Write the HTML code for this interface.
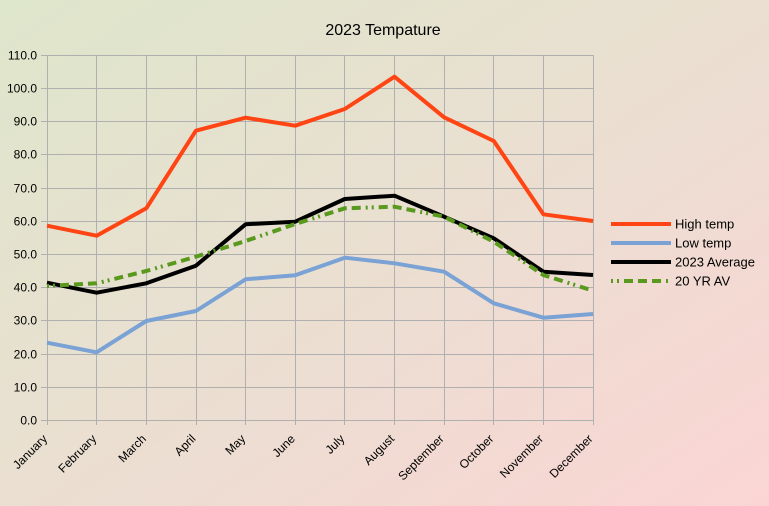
<!DOCTYPE html>
<html><head><meta charset="utf-8"><style>
html,body{margin:0;padding:0;}
body{width:769px;height:506px;overflow:hidden;background:linear-gradient(to bottom right,#DEE6CB 0%,#EADFD1 50%,#FBD5D4 100%);font-family:"Liberation Sans",Arial,sans-serif;}
svg{display:block;}
</style></head><body>
<svg width="769" height="506" viewBox="0 0 769 506" xmlns="http://www.w3.org/2000/svg" font-family="Liberation Sans, Arial, sans-serif">
<text x="383" y="35" font-size="16" text-anchor="middle" fill="#000">2023 Tempature</text>
<g stroke="#B0B0B0" stroke-width="1" fill="none">
<path d="M41 420.5H593.5M41 387.5H593.5M41 354.5H593.5M41 320.5H593.5M41 287.5H593.5M41 254.5H593.5M41 221.5H593.5M41 188.5H593.5M41 154.5H593.5M41 121.5H593.5M41 88.5H593.5M41 55.5H593.5"/>
<path d="M47.5 55V425M96.5 55V425M146.5 55V425M196.5 55V425M245.5 55V425M295.5 55V425M344.5 55V425M394.5 55V425M444.5 55V425M493.5 55V425M543.5 55V425M593.5 55V425"/>
</g>
<g font-size="12" text-anchor="end" fill="#000">
<text x="37" y="424.5">0.0</text>
<text x="37" y="391.5">10.0</text>
<text x="37" y="358.5">20.0</text>
<text x="37" y="324.5">30.0</text>
<text x="37" y="291.5">40.0</text>
<text x="37" y="258.5">50.0</text>
<text x="37" y="225.5">60.0</text>
<text x="37" y="192.5">70.0</text>
<text x="37" y="158.5">80.0</text>
<text x="37" y="125.5">90.0</text>
<text x="37" y="92.5">100.0</text>
<text x="37" y="59.5">110.0</text>
</g>
<g font-size="12" text-anchor="end" fill="#000">
<text transform="translate(48,439.5) rotate(-45)">January</text>
<text transform="translate(97.1,439.5) rotate(-45)">February</text>
<text transform="translate(146.8,439.5) rotate(-45)">March</text>
<text transform="translate(196.4,439.5) rotate(-45)">April</text>
<text transform="translate(246.1,439.5) rotate(-45)">May</text>
<text transform="translate(295.7,439.5) rotate(-45)">June</text>
<text transform="translate(345.3,439.5) rotate(-45)">July</text>
<text transform="translate(395,439.5) rotate(-45)">August</text>
<text transform="translate(444.6,439.5) rotate(-45)">September</text>
<text transform="translate(494.3,439.5) rotate(-45)">October</text>
<text transform="translate(543.9,439.5) rotate(-45)">November</text>
<text transform="translate(593.5,439.5) rotate(-45)">December</text>
</g>
<g fill="none" stroke-width="4" stroke-linejoin="round">
<polyline stroke="#FF4513" points="47,225.7 96.6,235.7 146.3,208.3 195.9,130.7 245.6,117.7 295.2,125.7 344.8,109 394.5,76.7 444.1,117.3 493.8,141 543.4,214.3 593,221"/>
<polyline stroke="#7AA2D4" points="47,342.7 96.6,352.3 146.3,321 195.9,311 245.6,279.3 295.2,275.3 344.8,257.7 394.5,263.3 444.1,271.7 493.8,303.3 543.4,317.7 593,314"/>
<polyline stroke="#000000" points="47,282.7 96.6,292.7 146.3,283.3 195.9,265.7 245.6,224.3 295.2,221.7 344.8,199 394.5,195.7 444.1,216.7 493.8,238.3 543.4,271.7 593,275"/>
<polyline stroke="#58991E" stroke-dasharray="9 5 9 5 9 5 2 4 2 5" stroke-dashoffset="42" stroke-linejoin="miter" points="47,286 96.6,283.3 146.3,271 195.9,256.7 245.6,241 295.2,224 344.8,208.3 394.5,206.7 444.1,216.7 493.8,241.7 543.4,275 593,290.7"/>
</g>
<g stroke-width="4">
<line x1="611" y1="224" x2="671" y2="224" stroke="#FF4513"/>
<line x1="611" y1="243" x2="671" y2="243" stroke="#7AA2D4"/>
<line x1="611" y1="262" x2="671" y2="262" stroke="#000"/>
<line x1="611" y1="281" x2="671" y2="281" stroke="#58991E" stroke-dasharray="9 5 9 5 9 5 2 4 2 5" stroke-dashoffset="42"/>
</g>
<g font-size="13" fill="#000">
<text x="675" y="228.7">High temp</text>
<text x="675" y="247.7">Low temp</text>
<text x="675" y="266.7">2023 Average</text>
<text x="675" y="285.7">20 YR AV</text>
</g>
</svg>
</body></html>
